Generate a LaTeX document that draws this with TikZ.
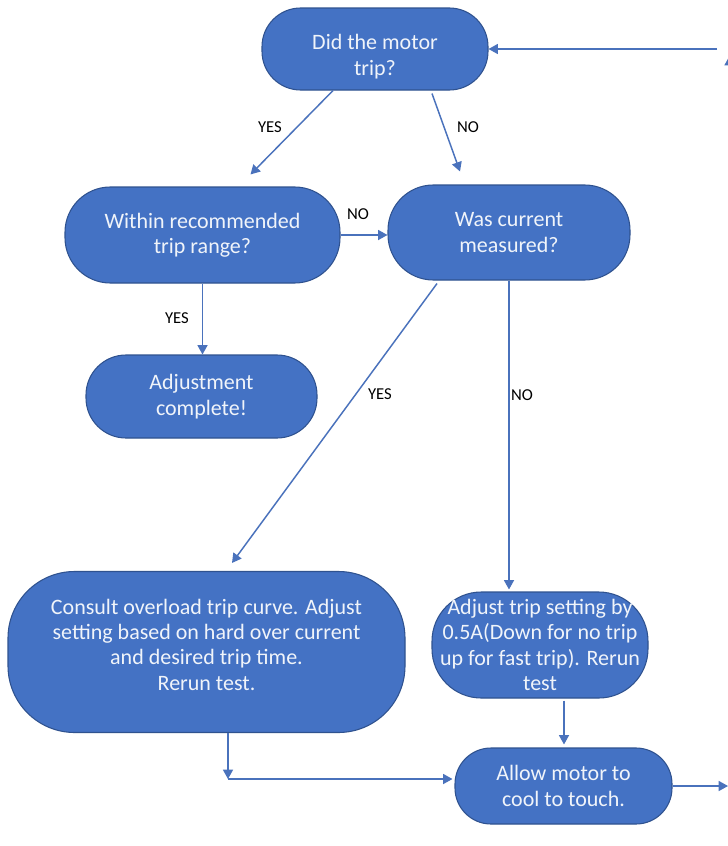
\documentclass[tikz,border=0pt]{standalone}
\usepackage{fontspec}
\setmainfont{Carlito}
\usetikzlibrary{arrows.meta,calc}
\definecolor{boxfill}{RGB}{68,114,196}
\definecolor{boxline}{RGB}{47,82,143}
\definecolor{arrowc}{RGB}{74,114,188}
\definecolor{boxtext}{RGB}{240,244,250}
\tikzset{
  flowbox/.style={draw=boxline, line width=0.8pt, fill=boxfill, text=boxtext,
    align=center, inner sep=0pt, font=\fontsize{16.5}{19}\selectfont},
  conn/.style={draw=arrowc, line width=1.1pt, -{Triangle[length=7pt,width=7.5pt]}},
  lbl/.style={font=\fontsize{12.5}{14}\selectfont, text=black, inner sep=0pt}
}
\begin{document}
\begin{tikzpicture}[x=0.75pt,y=-0.75pt]
\useasboundingbox (0,0) rectangle (728,846);
\fill[white] (0,0) rectangle (728,846);

\node[flowbox, minimum width=169.5pt, minimum height=61.5pt, rounded corners=29pt] (did) at (375,49) {\rule{0pt}{23pt}Did the motor\\trip?};
\node[flowbox, minimum width=206.25pt, minimum height=72pt, rounded corners=34pt] (within) at (202.5,235) {Within recommended\\trip range?};
\node[flowbox, minimum width=181.5pt, minimum height=71.25pt, rounded corners=34pt] (was) at (509,232.5) {Was current\\measured?};
\node[flowbox, minimum width=173.25pt, minimum height=62.25pt, rounded corners=30pt] (adjc) at (201.5,396.5) {Adjustment\\complete!};
\node[flowbox, minimum width=297.75pt, minimum height=120.75pt, rounded corners=50pt] (consult) at (206.5,652) {Consult overload trip curve. Adjust\\setting based on hard over current\\and desired trip time.\\Rerun test.\\[-8pt]\mbox{}};
\node[flowbox, minimum width=162pt, minimum height=79.5pt, rounded corners=37pt] (adjt) at (540,645) {Adjust trip setting by\\0.5A(Down for no trip\\up for fast trip). Rerun\\test};
\node[flowbox, minimum width=162.75pt, minimum height=57pt, rounded corners=27pt] (allow) at (563.5,786) {Allow motor to\\cool to touch.};

\coordinate (corner) at (228,779);
\coordinate (rbot) at (728,786);
\coordinate (rline) at (729.5,786);
\coordinate (rtip) at (729.5,56);
\coordinate (rtop) at (717,49);

\draw[conn] ($(did.south)+(-42,0)$) -- ($(within.north)+(48,-12)$);
\draw[conn] ($(did.south)+(57,3)$) -- ($(was.north)+(-49,-13)$);
\draw[conn] (within.east) -- (was.west |- within.east);
\draw[conn] (within.south) -- (within.south |- adjc.north);
\draw[conn] ($(was.south)+(-72,3)$) -- ($(consult.north)+(25.5,-8)$);
\draw[conn] (was.south) -- ($(was.south |- adjt.north)+(0,-2)$);
\draw[conn] ($(adjt.south)+(24,2)$) -- ($(allow.north -| adjt.south)+(24,-3)$);
\draw[conn] ($(consult.south)+(21.5,0)$) -- (corner);
\draw[conn] (corner) -- ($(allow.west |- corner)+(-2,0)$);
\draw[conn] (allow.east) -- (rbot);
\draw[conn] (rline) -- (rtip);
\draw[conn] (rtop) -- (did.east);

\node[lbl] (l1) at (270,127) {YES};
\node[lbl] (l2) at (468,127) {NO};
\node[lbl] (l3) at (358,214) {NO};
\node[lbl] (l4) at (177,318) {YES};
\node[lbl] (l5) at (380,394) {YES};
\node[lbl] (l6) at (522,395) {NO};
\end{tikzpicture}
\end{document}
